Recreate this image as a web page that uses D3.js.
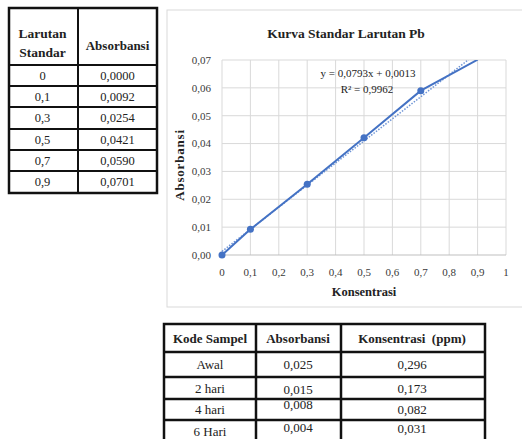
<!DOCTYPE html>
<html>
<head>
<meta charset="utf-8">
<script src="https://cdn.jsdelivr.net/npm/d3@7"></script>
<style>
  body { margin: 0; background: #fff; }
  svg text { font-family: "Liberation Serif", Tinos, "Times New Roman", "DejaVu Serif", serif; fill: #222; }
</style>
</head>
<body>
<script>
// standard curve data
const konsentrasi = [0, 0.1, 0.3, 0.5, 0.7, 0.9];
const absorbansi = [0.0000, 0.0092, 0.0254, 0.0421, 0.0590, 0.0701];
const stdLabels = ["0", "0,1", "0,3", "0,5", "0,7", "0,9"];
const absLabels = ["0,0000", "0,0092", "0,0254", "0,0421", "0,0590", "0,0701"];

// trendline
const slope = 0.0793;
const intercept = 0.0013;
const eqText = "y = 0,0793x + 0,0013";
const r2Text = "R² = 0,9962";

const xTicks = [0, 0.1, 0.2, 0.3, 0.4, 0.5, 0.6, 0.7, 0.8, 0.9, 1];
const yTicks = [0, 0.01, 0.02, 0.03, 0.04, 0.05, 0.06, 0.07];

// sample table
const sampelKode = ["Awal", "2 hari", "4 hari", "6 Hari"];
const sampelAbs = ["0,025", "0,015", "0,008", "0,004"];
const sampelKons = ["0,296", "0,173", "0,082", "0,031"];

const width = 522;
const height = 439;
const blue = "#4472c4";

const svg = d3.select("body")
    .append("svg")
    .attr("width", width)
    .attr("height", height);

svg.append("rect").attr("width", width).attr("height", height).attr("fill", "#fff");

const comma = v => String(v).replace(".", ",");

// ---------- top-left table ----------
{
    const colX = [9, 78, 157];
    const rowH = [57, 21, 21, 22, 21, 21, 22];
    const rowY = [8, ...d3.cumsum(rowH).map(v => v + 8)];
    const g = svg.append("g");

    g.append("rect")
        .attr("x", colX[0]).attr("y", rowY[0])
        .attr("width", colX[2] - colX[0]).attr("height", rowY[rowY.length - 1] - rowY[0])
        .attr("fill", "none").attr("stroke", "#111").attr("stroke-width", 2.5);

    g.selectAll(".hl")
        .data(rowY.slice(1, -1))
        .enter().append("line")
        .attr("x1", colX[0]).attr("x2", colX[2])
        .attr("y1", d => d).attr("y2", d => d)
        .attr("stroke", "#111").attr("stroke-width", 2);

    g.append("line")
        .attr("x1", colX[1]).attr("x2", colX[1])
        .attr("y1", rowY[0]).attr("y2", rowY[rowY.length - 1])
        .attr("stroke", "#111").attr("stroke-width", 2);

    const c1 = (colX[0] + colX[1]) / 2 - 1;
    const c2 = (colX[1] + colX[2]) / 2;

    g.append("text").attr("x", c1).attr("y", 33).attr("dy", "0.35em")
        .attr("text-anchor", "middle").style("font-weight", "bold").style("font-size", "13.5px")
        .text("Larutan");
    g.append("text").attr("x", c1).attr("y", 52).attr("dy", "0.35em")
        .attr("text-anchor", "middle").style("font-weight", "bold").style("font-size", "13.5px")
        .text("Standar");
    g.append("text").attr("x", c2).attr("y", 45).attr("dy", "0.35em")
        .attr("text-anchor", "middle").style("font-weight", "bold").style("font-size", "13px")
        .text("Absorbansi");

    stdLabels.forEach((s, i) => {
        const cy = (rowY[i + 1] + rowY[i + 2]) / 2;
        g.append("text").attr("x", c1).attr("y", cy).attr("dy", "0.35em")
            .attr("text-anchor", "middle").style("font-size", "12.5px").text(s);
        g.append("text").attr("x", c2).attr("y", cy).attr("dy", "0.35em")
            .attr("text-anchor", "middle").style("font-size", "12.5px").text(absLabels[i]);
    });
}

// ---------- chart ----------
const chartBox = { x: 167, y: 10, w: 362, h: 297 };
svg.append("rect")
    .attr("x", chartBox.x).attr("y", chartBox.y)
    .attr("width", chartBox.w).attr("height", chartBox.h)
    .attr("fill", "#fff").attr("stroke", "#d9d9d9").attr("stroke-width", 1);

const x = d3.scaleLinear().domain([0, 1]).range([222, 506]);
const y = d3.scaleLinear().domain([0, 0.07]).range([255, 60]);

svg.append("defs").append("clipPath").attr("id", "plot")
    .append("rect")
    .attr("x", x(0) - 6).attr("y", y(0.07))
    .attr("width", x(1) - x(0) + 12).attr("height", y(0) - y(0.07) + 6);

// gridlines
svg.append("g")
    .selectAll("line")
    .data(yTicks.slice(1))
    .enter().append("line")
    .attr("x1", x(0)).attr("x2", x(1))
    .attr("y1", d => y(d)).attr("y2", d => y(d))
    .attr("stroke", "#d9d9d9").attr("stroke-width", 1);

svg.append("g")
    .selectAll("line")
    .data(xTicks)
    .enter().append("line")
    .attr("x1", d => x(d)).attr("x2", d => x(d))
    .attr("y1", y(0)).attr("y2", y(0.07))
    .attr("stroke", "#d9d9d9").attr("stroke-width", 1);

// x axis line
svg.append("line")
    .attr("x1", x(0)).attr("x2", x(1))
    .attr("y1", y(0)).attr("y2", y(0))
    .attr("stroke", "#bfbfbf").attr("stroke-width", 1);

// tick labels
svg.append("g")
    .selectAll("text")
    .data(yTicks)
    .enter().append("text")
    .attr("x", 211).attr("y", d => y(d)).attr("dy", "0.35em")
    .attr("text-anchor", "end").style("font-size", "11px").style("fill", "#3a3a3a")
    .text(d => d3.format(".2f")(d).replace(".", ","));

svg.append("g")
    .selectAll("text")
    .data(xTicks)
    .enter().append("text")
    .attr("x", d => x(d)).attr("y", 272).attr("dy", "0.35em")
    .attr("text-anchor", "middle").style("font-size", "11px").style("fill", "#3a3a3a")
    .text(d => comma(d));

// titles
svg.append("text")
    .attr("x", chartBox.x + chartBox.w / 2 - 2).attr("y", 33).attr("dy", "0.35em")
    .attr("text-anchor", "middle").style("font-weight", "bold").style("font-size", "13.5px")
    .text("Kurva Standar Larutan Pb");

svg.append("text")
    .attr("x", (x(0) + x(1)) / 2).attr("y", 292).attr("dy", "0.35em")
    .attr("text-anchor", "middle").style("font-weight", "bold").style("font-size", "12.5px")
    .text("Konsentrasi");

svg.append("text")
    .attr("transform", "translate(179,165) rotate(-90)")
    .attr("dy", "0.35em")
    .attr("text-anchor", "middle").style("font-weight", "bold").style("font-size", "13px")
    .style("letter-spacing", "0.8px")
    .text("Absorbansi");

// series
const plot = svg.append("g").attr("clip-path", "url(#plot)");
const pts = konsentrasi.map((k, i) => [k, absorbansi[i]]);

plot.append("path")
    .datum([0, 0.9])
    .attr("fill", "none")
    .attr("stroke", "#6f95d6").attr("stroke-width", 1.5)
    .attr("stroke-dasharray", "1.5,1.5")
    .attr("d", d3.line().x(d => x(d)).y(d => y(slope * d + intercept)));

plot.append("path")
    .datum(pts)
    .attr("fill", "none")
    .attr("stroke", blue).attr("stroke-width", 2)
    .attr("d", d3.line().x(d => x(d[0])).y(d => y(d[1])));

svg.append("g")
    .selectAll("circle")
    .data(pts.filter(d => d[1] <= 0.07))
    .enter().append("circle")
    .attr("cx", d => x(d[0])).attr("cy", d => y(d[1]))
    .attr("r", 3.5)
    .attr("fill", blue);

svg.append("text")
    .attr("x", 368).attr("y", 73).attr("dy", "0.35em")
    .attr("text-anchor", "middle").style("font-size", "11px")
    .text(eqText);
svg.append("text")
    .attr("x", 367).attr("y", 89).attr("dy", "0.35em")
    .attr("text-anchor", "middle").style("font-size", "11px")
    .text(r2Text);

// ---------- bottom table ----------
{
    const colX = [164, 256, 341, 485];
    const rowH = [28, 25, 22, 21, 26];
    const rowY = [324, ...d3.cumsum(rowH).map(v => v + 324)];
    const g = svg.append("g");

    g.append("rect")
        .attr("x", colX[0]).attr("y", rowY[0])
        .attr("width", colX[3] - colX[0]).attr("height", rowY[rowY.length - 1] - rowY[0])
        .attr("fill", "none").attr("stroke", "#111").attr("stroke-width", 2.5);

    g.selectAll(".hl")
        .data(rowY.slice(1, -1))
        .enter().append("line")
        .attr("x1", colX[0]).attr("x2", colX[3])
        .attr("y1", d => d).attr("y2", d => d)
        .attr("stroke", "#111").attr("stroke-width", 2.5);

    g.selectAll(".vl")
        .data(colX.slice(1, -1))
        .enter().append("line")
        .attr("x1", d => d).attr("x2", d => d)
        .attr("y1", rowY[0]).attr("y2", rowY[rowY.length - 1])
        .attr("stroke", "#111").attr("stroke-width", 2.5);

    const cx = [210, 298, 412];
    const headers = ["Kode Sampel", "Absorbansi", "Konsentrasi  (ppm)"];
    headers.forEach((h, i) => {
        g.append("text").attr("x", cx[i]).attr("y", 338).attr("dy", "0.35em")
            .attr("text-anchor", "middle").style("font-weight", "bold").style("font-size", "13px")
            .style("white-space", "pre")
            .text(h);
    });

    // small vertical offsets of the values as they sit in the scanned table
    const shift = [[0, 0, 0], [0, 1, 0], [0, -5, 0], [-2, -6, -5]];
    sampelKode.forEach((k, i) => {
        const cy = (rowY[i + 1] + rowY[i + 2]) / 2;
        [k, sampelAbs[i], sampelKons[i]].forEach((t, j) => {
            g.append("text").attr("x", cx[j]).attr("y", cy + shift[i][j]).attr("dy", "0.35em")
                .attr("text-anchor", "middle").style("font-size", "13px")
                .text(t);
        });
    });
}
</script>
</body>
</html>
